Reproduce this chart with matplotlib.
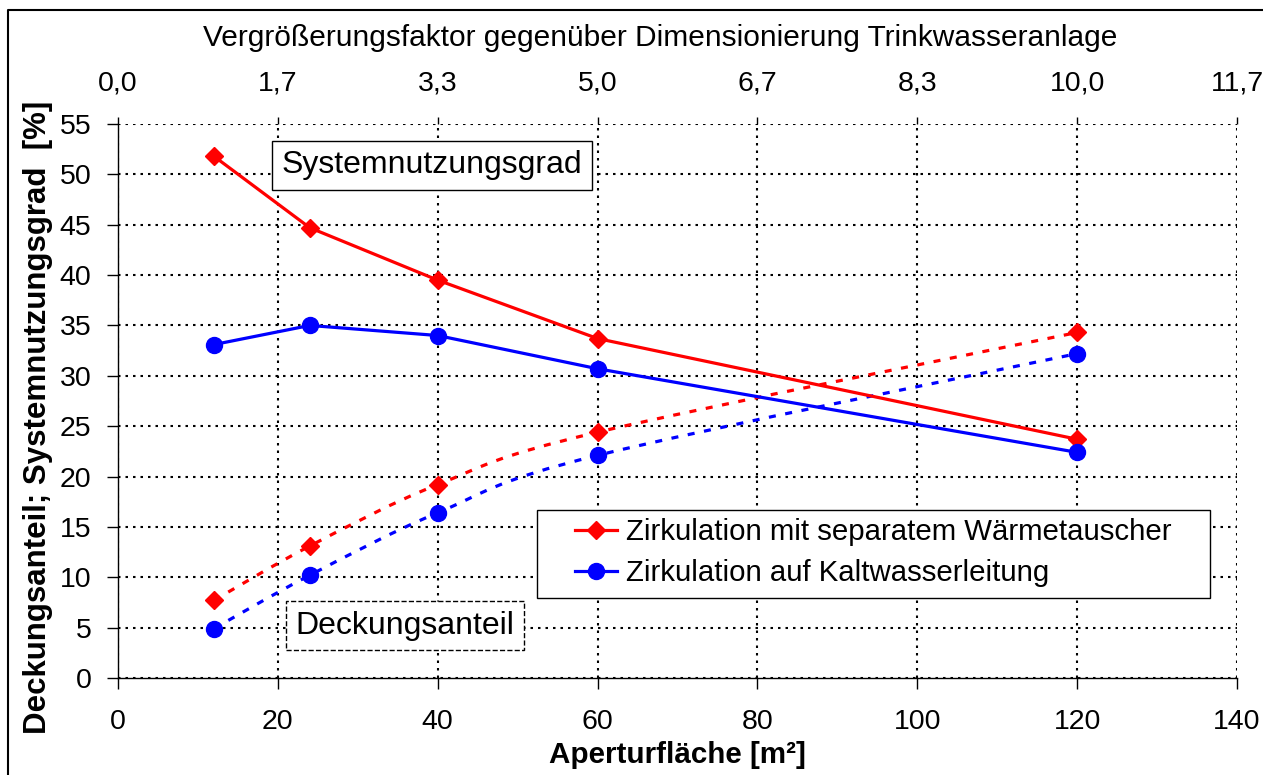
import numpy as np
import matplotlib
matplotlib.use("Agg")
import matplotlib.pyplot as plt
from matplotlib.path import Path
from matplotlib.patches import PathPatch, Rectangle
from matplotlib.lines import Line2D

plt.rcParams['font.family'] = ['Liberation Sans', 'DejaVu Sans']

# Daten
flaeche = [12, 24, 40, 60, 120]  # Aperturfläche [m²]
nutz_waermetauscher = [51.8, 44.7, 39.5, 33.7, 23.7]
nutz_kaltwasser = [33.1, 35.0, 34.0, 30.7, 22.4]
deck_waermetauscher = [7.7, 13.1, 19.2, 24.4, 34.3]
deck_kaltwasser = [4.9, 10.2, 16.4, 22.1, 32.2]

x_ticks = [0, 20, 40, 60, 80, 100, 120, 140]
top_labels = ['0,0', '1,7', '3,3', '5,0', '6,7', '8,3', '10,0', '11,7']
y_ticks = list(range(0, 60, 5))

label_wt = 'Zirkulation mit separatem Wärmetauscher'
label_kw = 'Zirkulation auf Kaltwasserleitung'

FS_TICK = 20.5
FS_LBL = 21.5
FS_NOTE = 23


def smooth_path(xs, ys):
    # Excel-artige geglaettete Linie als Bezier-Pfad durch die Punkte
    pts = np.column_stack([xs, ys]).astype(float)
    n = len(pts)
    verts = [pts[0]]
    codes = [Path.MOVETO]
    for i in range(n - 1):
        p0 = pts[i - 1] if i > 0 else pts[i]
        p1 = pts[i]
        p2 = pts[i + 1]
        p3 = pts[i + 2] if i + 2 < n else pts[i + 1]
        c1 = p1 + (p2 - p0) / 6.0
        c2 = p2 - (p3 - p1) / 6.0
        verts += [c1, c2, p2]
        codes += [Path.CURVE4] * 3
    return Path(verts, codes)


fig = plt.figure(figsize=(12.63, 7.75), dpi=100)
ax = fig.add_axes([0.0934, 0.1252, 0.8860, 0.7148])

# Systemnutzungsgrad (durchgezogen)
ax.plot(flaeche, nutz_waermetauscher, color='red', lw=2.3, marker='D', ms=9, zorder=4)
ax.plot(flaeche, nutz_kaltwasser, color='blue', lw=2.3, marker='o', ms=11.5, zorder=4)

# Deckungsanteil (gestrichelt, geglaettet)
for ys, col, mk, ms in [(deck_waermetauscher, 'red', 'D', 9),
                        (deck_kaltwasser, 'blue', 'o', 11.5)]:
    ax.add_patch(PathPatch(smooth_path(flaeche, ys), fill=False, edgecolor=col,
                           lw=2.3, linestyle=(0, (2.2, 3.0)), zorder=3))
    ax.plot(flaeche, ys, linestyle='none', color=col, marker=mk, ms=ms, zorder=4)

ax.set_xlim(0, 140)
ax.set_ylim(0, 55)
ax.set_xticks(x_ticks)
ax.set_yticks(y_ticks)
ax.tick_params(axis='both', labelsize=FS_TICK, direction='out', length=8, width=1)
ax.tick_params(axis='x', pad=14)
ax.tick_params(axis='y', pad=11)
ax.grid(True, color='black', linestyle=(0, (1.2, 2.4)), lw=1.5)
ax.spines['top'].set_visible(False)
ax.spines['right'].set_visible(False)
for s in ['left', 'bottom']:
    ax.spines[s].set_linewidth(1)

ax.set_xlabel('Aperturfläche [m²]', fontsize=21.3, fontweight='bold', labelpad=5)
ax.set_ylabel('Deckungsanteil; Systemnutzungsgrad  [%]', fontsize=22.5,
              fontweight='bold')
ax.yaxis.set_label_coords(-0.058, 0.471)

# obere Achse: Vergroesserungsfaktor
ax2 = ax.twiny()
ax2.set_xlim(ax.get_xlim())
ax2.set_xticks(x_ticks)
ax2.set_xticklabels(top_labels)
ax2.tick_params(axis='x', labelsize=FS_TICK, direction='out', length=5, width=1, pad=15)
for s in ax2.spines.values():
    s.set_visible(False)
ax2.set_xlabel('Vergrößerungsfaktor gegenüber Dimensionierung Trinkwasseranlage',
               fontsize=FS_LBL)
ax2.xaxis.set_label_coords(0.4845, 1.141)

# Beschriftungen
ax.text(39.3, 50.9, 'Systemnutzungsgrad', fontsize=FS_NOTE, ha='center', va='center',
        zorder=5, bbox=dict(boxstyle='square,pad=0.3', fc='white', ec='black', lw=1))
ax.text(35.9, 5.2, 'Deckungsanteil', fontsize=FS_NOTE, ha='center', va='center',
        zorder=5, bbox=dict(boxstyle='square,pad=0.3', fc='white', ec='black', lw=1,
                            linestyle='--'))

# Legende mit eigenem Rahmen (breiter Innenabstand wie im Original)
ax.add_patch(Rectangle((0.3744, 0.1444), 0.6014, 0.1588, transform=ax.transAxes,
                       fc='white', ec='black', lw=1, zorder=5))
handles = [Line2D([], [], color='red', lw=2.3, marker='D', ms=9),
           Line2D([], [], color='blue', lw=2.3, marker='o', ms=11.5)]
leg = ax.legend(handles, [label_wt, label_kw], fontsize=21.2, loc='upper left',
                bbox_to_anchor=(0.4084, 0.2888), frameon=False,
                borderpad=0, labelspacing=0.45,
                handlelength=1.43, handletextpad=0.3, borderaxespad=0)
leg.set_zorder(6)

# Rahmen links und oben (wie im Original leicht eingerueckt)
fig.add_artist(Line2D([8 / 1263, 8 / 1263, 1.0], [0.0, 1 - 10 / 775, 1 - 10 / 775],
                      transform=fig.transFigure, color='black', lw=1.5))

fig.savefig('out.png', dpi=100)
